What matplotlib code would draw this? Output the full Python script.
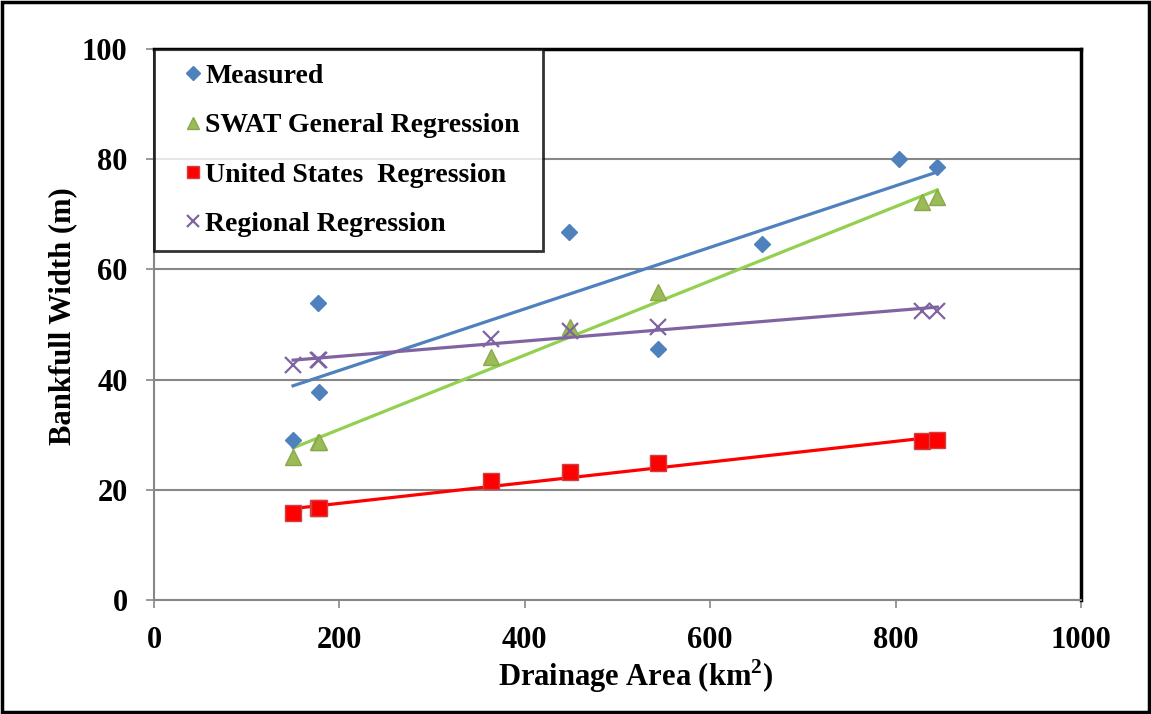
import numpy as np
import matplotlib.pyplot as plt
from matplotlib.patches import Rectangle

plt.rcParams['font.family'] = ['Liberation Serif', 'DejaVu Serif']
plt.rcParams['font.weight'] = 'bold'
plt.rcParams['mathtext.fontset'] = 'custom'
plt.rcParams['mathtext.rm'] = 'Liberation Serif:bold'
plt.rcParams['mathtext.bf'] = 'Liberation Serif:bold'

# Data
meas_x = [150, 177, 178, 448, 544, 656, 804, 845]
meas_y = [29.0, 53.9, 37.8, 66.8, 45.6, 64.6, 80.0, 78.6]

reg_x = [150, 177, 178, 364, 449, 544, 829, 845]
swat_y = [26.0, 28.6, 28.6, 44.1, 49.6, 55.9, 72.3, 73.1]
us_y = [15.8, 16.7, 16.7, 21.6, 23.2, 24.8, 28.8, 29.0]
regional_y = [42.6, 43.6, 43.6, 47.4, 48.8, 49.6, 52.5, 52.5]

fig = plt.figure(figsize=(11.51, 7.14), dpi=100)
ax = fig.add_axes([154/1151, 114/714, 927/1151, 551/714])

def trend(x, y, color):
    k, b = np.polyfit(x, y, 1)
    xs = np.array([min(x), max(x)])
    ax.plot(xs, k * xs + b, color=color, lw=2.3, zorder=3)

trend(meas_x, meas_y, '#4F81BD')
trend(reg_x, swat_y, '#92D050')
trend(reg_x, us_y, '#FF0000')
trend(reg_x, regional_y, '#8064A2')

ax.plot(meas_x, meas_y, 'D', color='#4F81BD', ms=8.5, zorder=4, label='Measured')
ax.plot(reg_x, swat_y, '^', color='#9BBB59', mec='#8AAA4A', ms=11.5, zorder=4,
        label='SWAT General Regression')
ax.plot(reg_x, us_y, 's', color='#FF0000', mec='#D04040', ms=11, zorder=4,
        label='United States  Regression')
ax.plot(reg_x, regional_y, 'x', color='#8064A2', ms=11.5, mew=1.6, zorder=4,
        label='Regional Regression')

ax.set_xlim(0, 1000)
ax.set_ylim(0, 100)
ax.set_xticks([0, 200, 400, 600, 800, 1000])
ax.set_yticks([0, 20, 40, 60, 80, 100])
ax.yaxis.grid(True, color='#878787', lw=1.5)
ax.set_axisbelow(True)

for s in ['left', 'bottom']:
    ax.spines[s].set_color('#878787')
    ax.spines[s].set_linewidth(1.5)
for s in ['top', 'right']:
    ax.spines[s].set_color('black')
    ax.spines[s].set_linewidth(2.5)

ax.tick_params(axis='both', direction='out', length=6, width=1.2, color='#878787',
               labelsize=22, pad=13)
for lbl in ax.get_xticklabels() + ax.get_yticklabels():
    lbl.set_fontweight('bold')

ax.set_xlabel('Drainage Area (km$^{\\mathbf{2}}$)', fontsize=22, fontweight='bold',
              va='center')
ax.set_ylabel('Bankfull Width (m)', fontsize=22, fontweight='bold', va='center')
ax.xaxis.set_label_coords(0.52, -0.138)
ax.yaxis.set_label_coords(-0.099, 0.515)

leg = ax.legend(loc='upper left', bbox_to_anchor=(0, 1, 389/927, 0), mode='expand',
                borderaxespad=0, fancybox=False, prop={'weight': 'bold', 'size': 20},
                numpoints=1, handlelength=1.75, handletextpad=-0.43, borderpad=0.52,
                labelspacing=0.86, markerscale=0.8)
leg.get_frame().set_edgecolor('black')
leg.get_frame().set_linewidth(2)
leg.set_zorder(5)

fig.add_artist(Rectangle((0.002, 0.003), 0.996, 0.994, transform=fig.transFigure,
                         fill=False, ec='black', lw=2.5))

fig.savefig('out.png', dpi=100)
